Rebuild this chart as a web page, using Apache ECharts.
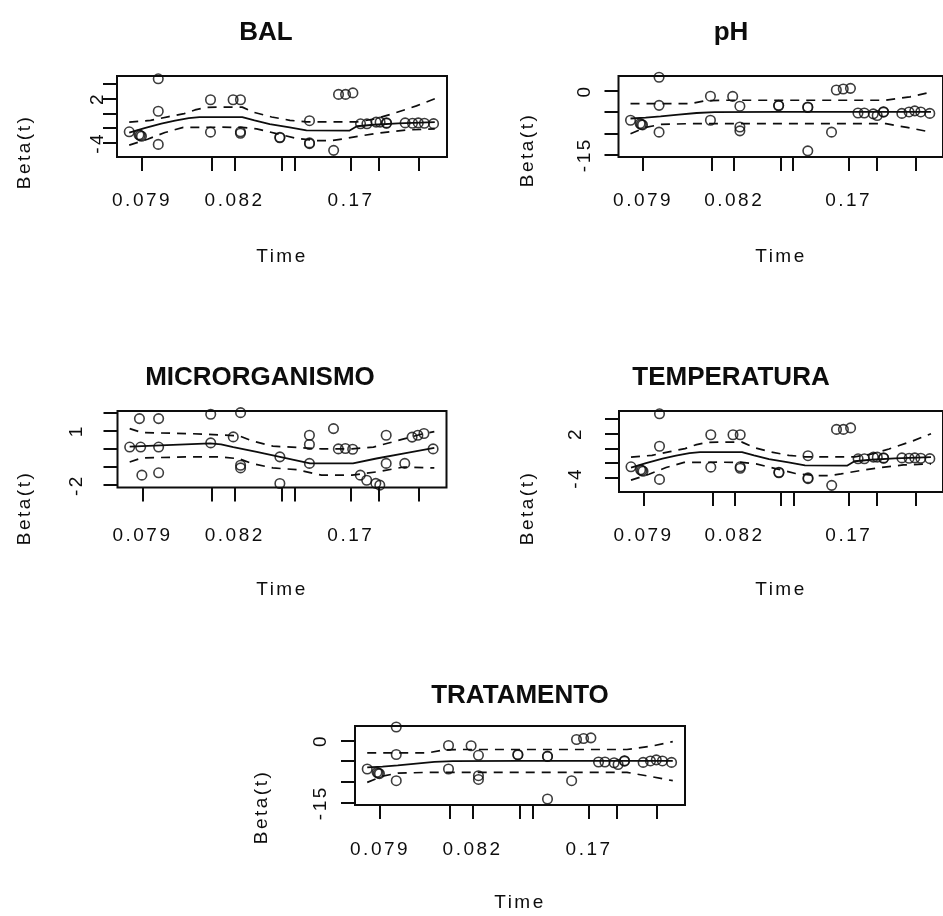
<!DOCTYPE html>
<html>
<head>
<meta charset="utf-8">
<script src="https://cdn.jsdelivr.net/npm/echarts@6/dist/echarts.min.js"></script>
<style>
  html, body { margin: 0; padding: 0; background: #fff; }
  #chart { width: 943px; height: 916px; }
</style>
</head>
<body>
<div id="chart"></div>
<script>
// ---- Scaled Schoenfeld residuals against transformed event time ----
const covariates = ['BAL', 'pH', 'MICRORGANISMO', 'TEMPERATURA', 'TRATAMENTO'];

const eventTime = [0.000, 0.032, 0.036, 0.040, 0.095, 0.095, 0.095, 0.266, 0.266, 0.340,
  0.364, 0.364, 0.364, 0.493, 0.493, 0.590, 0.590, 0.590, 0.669, 0.685, 0.708, 0.732,
  0.757, 0.778, 0.808, 0.821, 0.842, 0.842, 0.903, 0.927, 0.946, 0.966, 0.996];

const residBAL = [-2.5, -2.9, -3.0, -3.1, 4.65, 0.28, -4.2, 1.83, -2.55, 1.83,
  1.83, -2.5, -2.7, -3.24, -3.3, -1.0, -4.1, -4.0, -5.0, 2.55, 2.55, 2.75,
  -1.42, -1.42, -1.2, -1.2, -1.34, -1.3, -1.3, -1.35, -1.3, -1.35, -1.4];
const residPH = [-6.9, -7.7, -7.9, -8.0, 3.2, -3.4, -9.7, -1.25, -6.9, -1.3,
  -3.6, -8.5, -9.4, -3.4, -3.5, -3.8, -3.9, -14.1, -9.7, 0.2, 0.45, 0.6,
  -5.2, -5.2, -5.4, -5.8, -5.0, -4.9, -5.3, -4.95, -4.7, -4.95, -5.3];
const residMicro = [0.1, 1.67, 0.1, -1.45, 1.67, 0.1, -1.32, 1.91, 0.33, 0.66,
  2.0, -0.9, -1.05, -0.44, -1.91, 0.75, 0.24, -0.8, 1.12, 0.0, 0.02, -0.02,
  -1.45, -1.73, -1.9, -2.0, 0.75, -0.8, -0.8, 0.65, 0.75, 0.85, 0.0];
const residTemp = [-2.5, -2.9, -3.0, -3.1, 4.65, 0.28, -4.2, 1.83, -2.55, 1.83,
  1.83, -2.5, -2.7, -3.24, -3.3, -1.0, -4.1, -4.0, -5.0, 2.55, 2.55, 2.75,
  -1.42, -1.42, -1.2, -1.2, -1.34, -1.3, -1.3, -1.35, -1.3, -1.35, -1.4];
const residTrat = [-6.9, -7.7, -7.9, -8.0, 3.2, -3.4, -9.7, -1.25, -6.9, -1.3,
  -3.6, -8.5, -9.4, -3.4, -3.5, -3.8, -3.9, -14.1, -9.7, 0.2, 0.45, 0.6,
  -5.2, -5.2, -5.4, -5.8, -5.0, -4.9, -5.3, -4.95, -4.7, -4.95, -5.3];

// Smoothed beta(t) with its +/- 2 s.e. band, as [time, value]
const balFit = [[0, -2.6], [0.05, -2.0], [0.105, -1.4], [0.15, -1.0], [0.195, -0.65], [0.23, -0.53],
  [0.37, -0.53], [0.41, -0.95], [0.46, -1.45], [0.525, -1.9], [0.58, -2.3], [0.72, -2.35],
  [0.745, -1.75], [0.8, -1.55], [0.88, -1.35], [1.0, -1.2]];
const balUpper = [[0, -1.2], [0.07, -0.95], [0.13, -0.45], [0.18, -0.05], [0.215, 0.45], [0.25, 0.78],
  [0.29, 0.83], [0.37, 0.83], [0.41, 0.1], [0.466, -0.5], [0.526, -0.95], [0.58, -1.15],
  [0.745, -1.15], [0.8, -0.8], [0.86, -0.1], [0.94, 1.0], [1.0, 1.97]];
const balLower = [[0, -4.3], [0.06, -3.5], [0.117, -2.6], [0.177, -1.9], [0.3, -1.88], [0.37, -1.9],
  [0.417, -2.1], [0.482, -2.75], [0.548, -3.4], [0.614, -3.69], [0.657, -3.7], [0.7, -3.46],
  [0.765, -3.0], [0.83, -2.6], [0.908, -2.25], [1.0, -2.1]];

const phFit = [[0, -6.5], [0.05, -6.3], [0.1, -6.0], [0.16, -5.6], [0.22, -5.2], [0.28, -5.0],
  [0.5, -4.95], [1.0, -4.95]];
const phUpper = [[0, -3.0], [0.2, -3.0], [0.25, -2.3], [0.3, -2.2], [0.85, -2.2], [0.93, -1.4], [1.0, -0.3]];
const phLower = [[0, -10.1], [0.05, -8.6], [0.1, -7.9], [0.2, -7.7], [0.85, -7.7], [0.92, -8.6], [1.0, -9.7]];

const microFit = [[0, 0.12], [0.264, 0.3], [0.3, 0.25], [0.34, 0.1], [0.417, -0.17], [0.493, -0.44],
  [0.592, -0.8], [0.733, -0.8], [0.81, -0.53], [0.897, -0.26], [1.0, 0.05]];
const microUpper = [[0, 1.12], [0.04, 0.9], [0.2, 0.84], [0.26, 0.8], [0.36, 0.72], [0.4, 0.45],
  [0.47, 0.15], [0.55, 0.08], [0.63, 0.0], [0.73, 0.0], [0.8, 0.1], [0.9, 0.55], [0.96, 0.82], [1.0, 0.95]];
const microLower = [[0, -0.72], [0.04, -0.5], [0.2, -0.44], [0.3, -0.44], [0.36, -0.55], [0.4, -0.8],
  [0.47, -1.05], [0.55, -1.15], [0.63, -1.45], [0.73, -1.45], [0.81, -1.27], [0.9, -1.0], [1.0, -1.05]];

// Time axis: tick positions on the transformed scale and the printed times
const timeTicks = [0.042, 0.271, 0.345, 0.5, 0.541, 0.726, 0.818, 0.949];
const timeLabelPos = [0.042, 0.345, 0.726];
const timeLabels = ['0.079', '0.082', '0.17'];

// Beta(t) axes: ticks and the tick values that carry a label
const balTicks = [-4, -2, 0, 2, 4];
const balTickLabels = [-4, 2];
const phTicks = [-15, -10, -5, 0];
const phTickLabels = [-15, 0];
const microTicks = [-2, -1, 0, 1, 2];
const microTickLabels = [-2, 1];

// Plain (non-bold) labels get the wide glyph spacing of the R bitmap device
(function () {
  const proto = CanvasRenderingContext2D.prototype;
  const baseFill = proto.fillText;
  proto.fillText = function (text, x, y, maxWidth) {
    if ('letterSpacing' in this) {
      this.letterSpacing = /bold/.test(this.font) ? '0px' : '2.5px';
    }
    return maxWidth === undefined
      ? baseFill.call(this, text, x, y)
      : baseFill.call(this, text, x, y, maxWidth);
  };
})();

const FONT = 'Liberation Sans, Arial, Helvetica, sans-serif';
const INK = '#0d0d0d';

const panels = [
  { resid: residBAL, fit: balFit, upper: balUpper, lower: balLower,
    yRange: [-5.9, 5.03], ticks: balTicks, labels: balTickLabels,
    box: { left: 117, top: 76, width: 330, height: 81 }, yMargin: 10, xMargin: 34,
    titleAt: [266, 33], yNameAt: [25, 152], xNameAt: [282, 257] },
  { resid: residPH, fit: phFit, upper: phUpper, lower: phLower,
    yRange: [-15.55, 3.5], ticks: phTicks, labels: phTickLabels,
    box: { left: 618.5, top: 76, width: 330, height: 81 }, yMargin: 24, xMargin: 34,
    titleAt: [731, 33], yNameAt: [528, 150], xNameAt: [781, 257] },
  { resid: residMicro, fit: microFit, upper: microUpper, lower: microLower,
    yRange: [-2.13, 2.09], ticks: microTicks, labels: microTickLabels,
    box: { left: 117.5, top: 411, width: 329, height: 76.5 }, yMargin: 31, xMargin: 39,
    titleAt: [260, 378], yNameAt: [25, 508], xNameAt: [282, 590] },
  { resid: residTemp, fit: balFit, upper: balUpper, lower: balLower,
    yRange: [-5.9, 5.03], ticks: balTicks, labels: balTickLabels,
    box: { left: 619, top: 411, width: 330, height: 81 }, yMargin: 34, xMargin: 34,
    titleAt: [731, 378], yNameAt: [528, 508], xNameAt: [781, 590] },
  { resid: residTrat, fit: phFit, upper: phUpper, lower: phLower,
    yRange: [-15.55, 3.45], ticks: phTicks, labels: phTickLabels,
    box: { left: 355, top: 726, width: 330, height: 79 }, yMargin: 25, xMargin: 35,
    titleAt: [520, 696], yNameAt: [262, 807], xNameAt: [520, 903] }
];

const grid = [], xAxis = [], yAxis = [], series = [], graphic = [];

panels.forEach(function (p, i) {
  grid.push(Object.assign({
    show: true, borderColor: INK, borderWidth: 2, backgroundColor: 'transparent'
  }, p.box));

  xAxis.push({
    type: 'value', gridIndex: i, min: -0.04, max: 1.04, position: 'bottom',
    axisLine: { show: false, onZero: false }, splitLine: { show: false },
    axisTick: { show: true, customValues: timeTicks, length: 14, lineStyle: { color: INK, width: 2 } },
    axisLabel: {
      show: true, customValues: timeLabelPos, margin: p.xMargin,
      fontSize: 19, fontFamily: FONT, color: INK,
      formatter: function (v) {
        const k = timeLabelPos.findIndex(function (t) { return Math.abs(t - v) < 1e-6; });
        return k >= 0 ? timeLabels[k] : '';
      }
    }
  });

  yAxis.push({
    type: 'value', gridIndex: i, min: p.yRange[0], max: p.yRange[1], position: 'left',
    axisLine: { show: false, onZero: false }, splitLine: { show: false },
    axisTick: { show: true, customValues: p.ticks, length: 14, lineStyle: { color: INK, width: 2 } },
    axisLabel: {
      show: true, customValues: p.labels, rotate: 90, margin: p.yMargin,
      fontSize: 19, fontFamily: FONT, color: INK
    }
  });

  const bandStyle = { color: INK, width: 1.7, type: [9, 7] };
  series.push(
    { type: 'line', xAxisIndex: i, yAxisIndex: i, data: p.fit, showSymbol: false,
      lineStyle: { color: INK, width: 1.8 }, silent: true },
    { type: 'line', xAxisIndex: i, yAxisIndex: i, data: p.upper, showSymbol: false,
      lineStyle: bandStyle, silent: true },
    { type: 'line', xAxisIndex: i, yAxisIndex: i, data: p.lower, showSymbol: false,
      lineStyle: bandStyle, silent: true },
    { type: 'scatter', xAxisIndex: i, yAxisIndex: i, clip: false,
      data: eventTime.map(function (t, k) { return [t, p.resid[k]]; }),
      symbol: 'circle', symbolSize: 9.5,
      itemStyle: { color: 'rgba(0,0,0,0)', borderColor: INK, borderWidth: 1.6 }, silent: true }
  );

  graphic.push(
    { type: 'text', x: p.titleAt[0], y: p.titleAt[1], silent: true,
      style: { text: covariates[i], fontSize: 26, fontWeight: 'bold', fontFamily: FONT,
        fill: INK, align: 'center', verticalAlign: 'middle' } },
    { type: 'text', x: p.yNameAt[0], y: p.yNameAt[1], rotation: Math.PI / 2, silent: true,
      style: { text: 'Beta(t)', fontSize: 19, fontFamily: FONT,
        fill: INK, align: 'center', verticalAlign: 'middle' } },
    { type: 'text', x: p.xNameAt[0], y: p.xNameAt[1], silent: true,
      style: { text: 'Time', fontSize: 19, fontFamily: FONT,
        fill: INK, align: 'center', verticalAlign: 'middle' } }
  );
});

const chart = echarts.init(document.getElementById('chart'), null, { renderer: 'canvas' });
chart.setOption({
  backgroundColor: '#fff',
  animation: false,
  grid: grid,
  xAxis: xAxis,
  yAxis: yAxis,
  series: series,
  graphic: graphic
});
</script>
</body>
</html>
